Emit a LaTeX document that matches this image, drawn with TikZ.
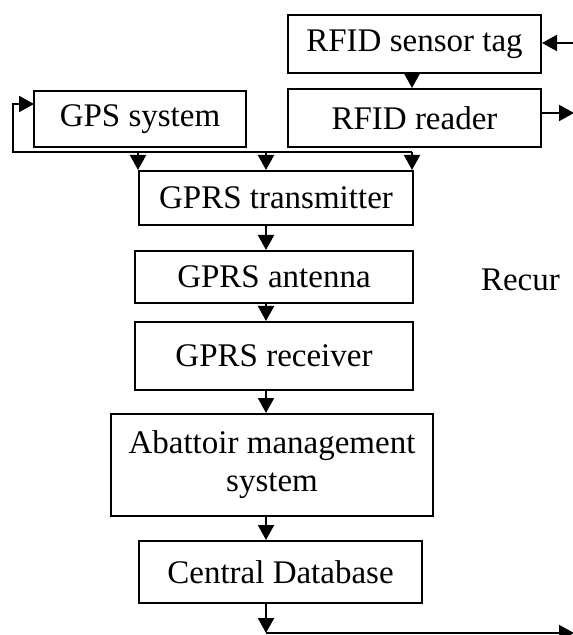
\documentclass[tikz,border=0pt]{standalone}
\usepackage{fontspec}
\setmainfont{Liberation Serif}
\usetikzlibrary{arrows.meta,positioning,calc}

\begin{document}
\begin{tikzpicture}[
  x=0.5pt, y=-0.5pt,
  font=\fontsize{16.5}{19}\selectfont,
  box/.style={draw, line width=1pt, align=center, inner sep=0pt},
  arr/.style={-{Triangle[length=7.5pt,width=8pt]}, line width=1pt},
  wire/.style={line width=1pt}
]
\useasboundingbox (0,0) rectangle (572,635);
\node[box, minimum width=126.5pt, minimum height=29pt] (tag) at (414.5,44) {RFID sensor tag};
\node[box, minimum width=126.5pt, minimum height=29pt] (reader) at (414.5,118) {RFID reader};
\node[box, minimum width=106pt, minimum height=28pt] (gps) at (140,119) {GPS system};
\node[box, minimum width=137pt, minimum height=27pt] (trans) at (276,198) {GPRS transmitter};
\node[box, minimum width=139pt, minimum height=26pt] (antenna) at (274,277) {GPRS antenna};
\node[box, minimum width=139pt, minimum height=34pt] (receiver) at (274,356) {GPRS receiver};
\node[box, minimum width=161pt, minimum height=51pt] (abattoir) at (272,465) {Abattoir management\\system};
\node[box, minimum width=141.5pt, minimum height=31pt] (database) at (280.5,572) {Central Database};
\node[anchor=base west] (recur) at (474,291) {Recur};

% free ends
\coordinate (spine) at (266,0);
\coordinate (tagin) at (574,43);
\coordinate (readout) at (574,113);
\coordinate (gpsin) at (34,104);
\coordinate (busL) at (13,152);
\coordinate (busR) at (412,152);
\coordinate (dbout) at (574,633);

\draw[arr] (tagin) -- (tag.east |- tagin);
\draw[arr] (tag.south -| busR) -- (reader.north -| busR);
\draw[arr] (reader.east |- readout) -- (readout);
\draw[arr] (busR) -- (busL) |- (gpsin);
\draw[arr] (busL -| trans.north west) -- (trans.north west);
\draw[arr] (busL -| spine) -- (trans.north -| spine);
\draw[arr] (busR) -- (trans.north -| busR);
\draw[arr] (trans.south -| spine) -- (antenna.north -| spine);
\draw[arr] (antenna.south -| spine) -- (receiver.north -| spine);
\draw[arr] (receiver.south -| spine) -- (abattoir.north -| spine);
\draw[arr] (abattoir.south -| spine) -- (database.north -| spine);
\draw[arr] (database.south -| spine) -- (spine |- dbout);
\draw[arr] (spine |- dbout) -- (dbout);
\end{tikzpicture}
\end{document}
